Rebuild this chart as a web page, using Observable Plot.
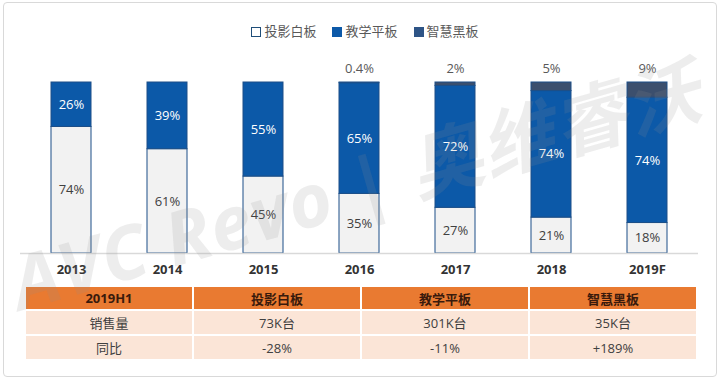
<!DOCTYPE html>
<html><head><meta charset="utf-8">
<script src="https://cdn.jsdelivr.net/npm/d3@7"></script>
<script src="https://cdn.jsdelivr.net/npm/@observablehq/plot@0.6"></script>
<style>
body{margin:0;background:#fff;font-family:"Open Sans","Noto Sans CJK SC",sans-serif;}
#wrap{position:relative;width:720px;height:380px;overflow:hidden;}
#frame{position:absolute;left:3px;top:2px;width:712px;height:373px;border:1px solid #d9d9d9;border-radius:4px;}
#legend{position:absolute;top:21px;left:0;width:730px;text-align:center;font-size:13px;color:#595959;}
#legend span.item{margin:0 8px;}
#legend i{display:inline-block;width:10px;height:10px;margin-right:3px;vertical-align:-1px;box-sizing:border-box;}
#chart{position:absolute;left:0;top:40px;}
#tbl{position:absolute;left:24px;top:285px;width:674px;border-collapse:separate;border-spacing:2px;table-layout:fixed;font-size:13px;}
#tbl td{text-align:center;padding:0;}
#tbl tr.h td{background:#e97a31;color:#3a1a0c;font-weight:bold;height:22px;}
#tbl tr.r td{background:#fbe5d7;color:#404040;height:23px;}
#wm{position:absolute;left:12px;top:226px;font-size:74px;font-weight:bold;font-style:italic;color:rgba(140,140,140,0.16);white-space:nowrap;transform:rotate(-16deg);transform-origin:0 50%;letter-spacing:1px;pointer-events:none;}
</style></head>
<body>
<div id="wrap">
<div id="frame"></div>
<div id="legend"></div>
<div id="chart"></div>
<table id="tbl"></table>
<div id="wm">AVC Revo | 奥维睿沃</div>
</div>
<script>
const years = ["2013","2014","2015","2016","2017","2018","2019F"];
const series = ["投影白板","教学平板","智慧黑板"];
const projector = [74,61,45,35,27,21,18];
const tablet = [26,39,55,65,72,74,74];
const smartBoard = [0,0,0,0.4,2,5,9];
const colors = ["#f2f2f2","#0c59a8","#3c4f6d"];

const tableHeader = ["2019H1","投影白板","教学平板","智慧黑板"];
const salesRow = ["销售量","73K台","301K台","35K台"];
const yoyRow = ["同比","-28%","-11%","+189%"];

const valuesBySeries = [projector, tablet, smartBoard];
const data = [];
years.forEach((y,i)=>series.forEach((s,j)=>data.push({year:y, series:s, value:valuesBySeries[j][i]})));

// legend
const leg = document.getElementById("legend");
series.forEach((s,j)=>{
  const it = document.createElement("span"); it.className="item";
  const sw = document.createElement("i");
  if(j===0){sw.style.border="1.5px solid #1f4e79";sw.style.background="#fff";}
  else {sw.style.background = j===1 ? "#0c59a8" : "#2e5486";}
  it.appendChild(sw); it.appendChild(document.createTextNode(s)); leg.appendChild(it);
});

const font = '"Open Sans","Noto Sans CJK SC",sans-serif';
const stackOpts = {offset:"normalize", x:"year", y:"value"};
const chart = Plot.plot({
  width:720, height:240,
  marginTop:42, marginBottom:27, marginLeft:20, marginRight:22,
  style:{fontFamily:font, fontSize:"13px", background:"transparent", overflow:"visible"},
  x:{domain:years, paddingInner:0.587, paddingOuter:0.293, label:null},
  y:{domain:[0,1], axis:null},
  color:{domain:series, range:colors},
  marks:[
    Plot.barY(data, Plot.stackY({...stackOpts, fill:"series", stroke:"#1d4f88", strokeWidth:1})),
    Plot.ruleY([0], {stroke:"#d9d9d9", strokeWidth:1.5}),
    Plot.axisX({tickSize:0, tickPadding:11, fontWeight:"bold", fill:"#333", fontSize:13}),
    Plot.text(data, Plot.stackY({...stackOpts, text:d=>d.series===series[0]?d.value+"%":"", fill:"#404040", fontSize:13})),
    Plot.text(data, Plot.stackY({...stackOpts, text:d=>d.series===series[1]?d.value+"%":"", fill:"#ffffff", fontSize:13})),
    Plot.text(data, Plot.stackY2({...stackOpts, text:d=>d.series===series[2]&&d.value>0?d.value+"%":"", fill:"#595959", fontSize:13, dy:-14}))
  ]
});
document.getElementById("chart").appendChild(chart);

// table
const tbl = document.getElementById("tbl");
[[tableHeader,"h"],[salesRow,"r"],[yoyRow,"r"]].forEach(([row,cls])=>{
  const tr = document.createElement("tr"); tr.className=cls;
  row.forEach(c=>{const td=document.createElement("td"); td.textContent=c; tr.appendChild(td);});
  tbl.appendChild(tr);
});
</script>
</body></html>
